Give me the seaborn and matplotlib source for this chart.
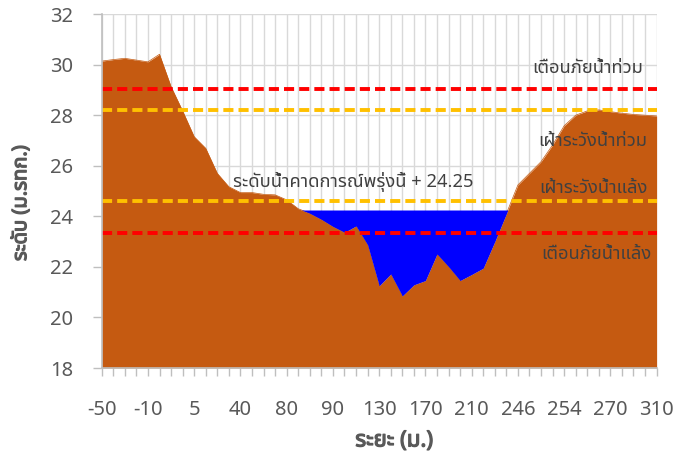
import numpy as np
import pandas as pd
import matplotlib
matplotlib.use("Agg")
import matplotlib.pyplot as plt
import matplotlib.patheffects as pe
import seaborn as sns
from matplotlib import font_manager
from matplotlib.ft2font import FT2Font

# distance along the cross-section (m) - only every 4th is labelled
distance = [-50, -40, -30, -20, -10, -5, 0, 2, 5, 10, 20, 30, 40, 50, 60, 70,
            80, 82, 84, 86, 90, 100, 110, 120, 130, 140, 150, 160, 170, 180,
            190, 200, 210, 220, 230, 240, 246, 248, 250, 252, 254, 258, 262,
            266, 270, 280, 290, 300, 310]
# ground level (m. MSL)
ground = [30.14, 30.20, 30.25, 30.18, 30.11, 30.41, 29.13, 28.17, 27.15, 26.69,
          25.70, 25.17, 24.94, 24.94, 24.87, 24.85, 24.65, 24.30, 24.12, 23.88,
          23.60, 23.37, 23.62, 22.87, 21.25, 21.72, 20.85, 21.29, 21.46, 22.51,
          22.01, 21.46, 21.70, 21.95, 23.00, 24.10, 25.24, 25.70, 26.16, 26.82,
          27.58, 28.00, 28.17, 28.21, 28.14, 28.08, 28.03, 28.00, 27.97]
forecast = 24.25
flood_warn = 29.05
flood_watch = 28.2
drought_watch = 24.6
drought_warn = 23.35

df = pd.DataFrame({"pos": np.arange(len(distance)), "dist": distance, "ground": ground})


def find_thai_font():
    prefer = ["Leelawadee UI", "Tahoma", "Noto Sans Thai", "Noto Sans Thai UI",
              "Loma", "Garuda", "Sarabun", "Waree", "Umpush", "Kinnari"]
    found = []
    for f in font_manager.fontManager.ttflist:
        try:
            if 0x0E23 in FT2Font(f.fname).get_charmap():
                found.append(f.name)
        except Exception:
            pass
    for p in prefer:
        if p in found:
            return p
    return found[0] if found else "DejaVu Sans"


sns.set_theme(style="white")
thai = find_thai_font()
plt.rcParams["font.family"] = [thai, "DejaVu Sans"]

fig, ax = plt.subplots(figsize=(6.89, 4.54), dpi=100)
fig.subplots_adjust(left=0.1476, right=0.953, top=0.969, bottom=0.1894)

grid_c = "#D9D9D9"
text_c = "#595959"

sns.lineplot(data=df, x="pos", y="ground", color="#C55A11", linewidth=0.5, ax=ax, zorder=2)
ax.fill_between(df["pos"], 18, df["ground"], color="#C55A11", linewidth=0, zorder=2)
ax.fill_between(df["pos"], df["ground"], forecast, where=df["ground"] < forecast,
                interpolate=True, color="#0000FF", linewidth=0, zorder=3)

dash = dict(linewidth=2.8, dashes=(2.6, 1.3), zorder=4)
ax.axhline(flood_warn, color="#FF0000", **dash)
ax.axhline(flood_watch, color="#FFC000", **dash)
ax.axhline(drought_watch, color="#FFC000", **dash)
ax.axhline(drought_warn, color="#FF0000", **dash)

lab_c = "#404040"
fs = 13.2
ax.text(46.8, 29.68, "เตือนภัยน้ำท่วม", ha="right", va="baseline", fontsize=fs, color=lab_c, zorder=5)
ax.text(47.2, 26.8, "เฝ้าระวังน้ำท่วม", ha="right", va="baseline", fontsize=fs, color=lab_c, zorder=5)
ax.text(47.2, 24.94, "เฝ้าระวังน้ำแล้ง", ha="right", va="baseline", fontsize=fs, color=lab_c, zorder=5)
ax.text(47.6, 22.32, "เตือนภัยน้ำแล้ง", ha="right", va="baseline", fontsize=fs, color=lab_c, zorder=5)
ax.text(11.36, 25.17, f"ระดับน้ำคาดการณ์พรุ่งนี้ + {forecast}", ha="left", va="baseline",
        fontsize=fs, color=lab_c, zorder=5)

ax.set_xlim(0, len(distance) - 1)
ax.set_ylim(18, 32)
ax.set_yticks(np.arange(18, 33, 2))
ax.set_xticks(df["pos"])
ax.set_xticklabels([str(d) if i % 4 == 0 else "" for i, d in enumerate(distance)])
ax.grid(True, color=grid_c, linewidth=1.0, zorder=0)
ax.set_axisbelow(True)

for s in ["top", "right"]:
    ax.spines[s].set_visible(False)
for s in ["left", "bottom"]:
    ax.spines[s].set_color("#BFBFBF")
    ax.spines[s].set_linewidth(1.2)
    ax.spines[s].set_zorder(6)

ax.tick_params(axis="y", length=6.5, width=1, color="#BFBFBF", pad=14, labelsize=14.5, labelcolor=text_c, left=True)
ax.tick_params(axis="x", length=6, width=1, color="#BFBFBF", pad=17, labelsize=14.5, labelcolor=text_c, bottom=True)

# fake bold for the axis titles
bold = [pe.withStroke(linewidth=0.9, foreground=text_c)]
ax.set_xlabel("ระยะ (ม.)", fontsize=16, color=text_c, va="center", path_effects=bold)
ax.set_ylabel("ระดับ (ม.รทก.)", fontsize=14.5, color=text_c, va="center", path_effects=bold)
ax.xaxis.set_label_coords(0.527, -0.206)
ax.yaxis.set_label_coords(-0.145, 0.466)

fig.savefig("out.png", dpi=100)
